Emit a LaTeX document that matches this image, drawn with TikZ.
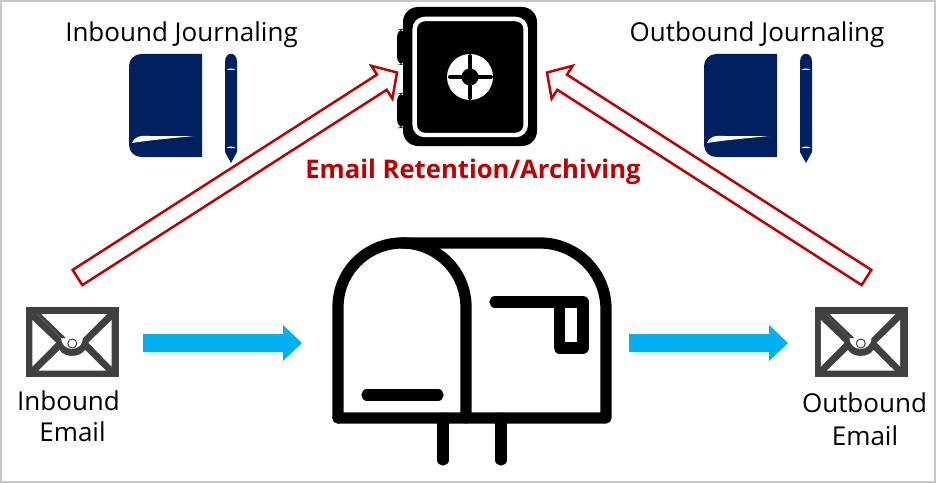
\documentclass[tikz,border=0pt]{standalone}
\usepackage{fontspec}
\setmainfont{Open Sans}
\usetikzlibrary{calc}
\definecolor{bookblue}{HTML}{002060}
\definecolor{flowblue}{HTML}{00B0F0}
\definecolor{archivered}{HTML}{C00000}
\definecolor{mailgray}{HTML}{404040}
\tikzset{
    blockarrow/.style n args={3}{to path={
        ($(\tikztostart)!#1!90:(\tikztotarget)$)
        -- ($($(\tikztotarget)!#3!(\tikztostart)$)!#1!90:(\tikztotarget)$)
        -- ($($(\tikztotarget)!#3!(\tikztostart)$)!#2!90:(\tikztotarget)$)
        -- (\tikztotarget)
        -- ($($(\tikztotarget)!#3!(\tikztostart)$)!#2!-90:(\tikztotarget)$)
        -- ($($(\tikztotarget)!#3!(\tikztostart)$)!#1!-90:(\tikztotarget)$)
        -- ($(\tikztostart)!#1!-90:(\tikztotarget)$) -- cycle}},
    flowarrow/.style={fill=flowblue,draw=none,blockarrow={.18cm}{.36cm}{.38cm}},
    archivearrow/.style={draw=archivered,fill=white,line width=.05cm,blockarrow={.18cm}{.39cm}{.36cm}},
    label/.style={font=\fontsize{14.8}{18}\selectfont,inner sep=0pt,anchor=base},
    boxline/.style={line width=.225cm,line cap=round,line join=round},
}
\begin{document}
\begin{tikzpicture}[x=.02cm,y=-.02cm]
\useasboundingbox (0,0) rectangle (936,483);
\fill[white] (0,0) rectangle (936,483);
\draw[black!22,line width=.05cm] (1,1) rectangle (935,482);

% journals
\foreach \x in {0,575}
{
    \begin{scope}[shift={(\x,0)}]
    \fill[bookblue,rounded corners=.24cm] (202,54)--(129,54)--(129,157)--(202,157);
    \fill[bookblue] (190,54) rectangle (202,157);
    \fill[white] (132,143) .. controls (134,137) and (140,135) .. (150,136) .. controls (165,136) and (180,136) .. (194,136) .. controls (175,138) and (150,140) .. cycle;
    \fill[bookblue] (225,62) .. controls (225,51) and (237,51) .. (237,62) -- (237,152) -- (231,163) -- (225,152) -- cycle;
    \fill[white] (226.5,70) .. controls (229,68) and (233,68) .. (235.5,70) -- cycle;
    \fill[white] (226.5,148) .. controls (229,146) and (233,146) .. (235.5,148) -- cycle;
    \end{scope}
}

% safe
\fill[black,rounded corners=.16cm] (405,29) -- (397,29) -- (397,65) -- (405,65) -- cycle;
\fill[black,rounded corners=.16cm] (405,93) -- (397,93) -- (397,128) -- (405,128) -- cycle;
\fill[black,rounded corners=.3cm] (403,7) rectangle (537,146);
\draw[white,line width=.09cm,rounded corners=.2cm] (414.7,19) rectangle (525.7,135);
\fill[white] (470,77) circle (23);
\draw[black,line width=.08cm,line cap=round] (450,77) -- (491,77) (470,56) -- (470,98);
\fill[black] (470,77) circle (8.5);

% mailbox
\draw[boxline] (338,418) -- (338,307) arc (180:270:64) arc (270:360:64) -- (466,418);
\draw[boxline] (402,243) -- (540,243) arc (270:360:66) -- (606,418) -- (338,418);
\draw[boxline] (495,302) -- (583,302) -- (583,348) -- (559.5,348) -- (559.5,302);
\draw[boxline] (367,395) -- (438,395);
\draw[boxline] (443,418) -- (443,460);
\draw[boxline] (501,418) -- (501,460);

% envelopes
\foreach \x in {0,788.5}
{
    \begin{scope}[shift={(\x,0)}]
    \fill[mailgray] (26,307) rectangle (119,377);
    \fill[white] (37,314) -- (107,314) -- (83,338) arc (0:180:11) -- cycle;
    \fill[white] (32.3,320) -- (56,342.7) -- (32.3,366.7) -- cycle;
    \fill[white] (111.7,320) -- (88.3,342.7) -- (111.7,366.7) -- cycle;
    \fill[white] (38.3,370.7) -- (59.5,350) .. controls (64,358) and (80,358) .. (85,350) -- (106,370.7) -- cycle;
    \fill[mailgray] (37,314) -- (41,314) -- (66,338) -- (61,338) -- cycle;
    \draw[white,line width=.016cm] (43,315) -- (67,338);
    \fill[white,draw=mailgray,line width=.02cm] (72.3,343.5) circle (4.5);
    \end{scope}
}

\coordinate (inboundstart) at (143,343);
\coordinate (boxleft) at (302,343);
\coordinate (boxright) at (629,343);
\coordinate (outboundend) at (788,343);
\coordinate (inboundcopy) at (77.5,277.5);
\coordinate (safeleft) at (397,72.5);
\coordinate (outboundcopy) at (866.5,277.5);
\coordinate (saferight) at (547,72.5);

\draw[flowarrow] (inboundstart) to (boxleft);
\draw[flowarrow] (boxright) to (outboundend);
\draw[archivearrow] (inboundcopy) to (safeleft);
\draw[archivearrow] (outboundcopy) to (saferight);

\node[label] (injournal) at (181.5,42) {Inbound Journaling};
\node[label] (outjournal) at (757,42) {Outbound Journaling};
\node[label,text=archivered,font=\fontsize{14.6}{18}\selectfont\bfseries] (archive) at (473,178) {Email Retention/Archiving};
\node[label] (inmail) at (68.5,410) {Inbound};
\node[label] (inmailb) at (72.5,441) {Email};
\node[label] (outmail) at (864.5,412) {Outbound};
\node[label] (outmailb) at (865,445) {Email};
\end{tikzpicture}
\end{document}
